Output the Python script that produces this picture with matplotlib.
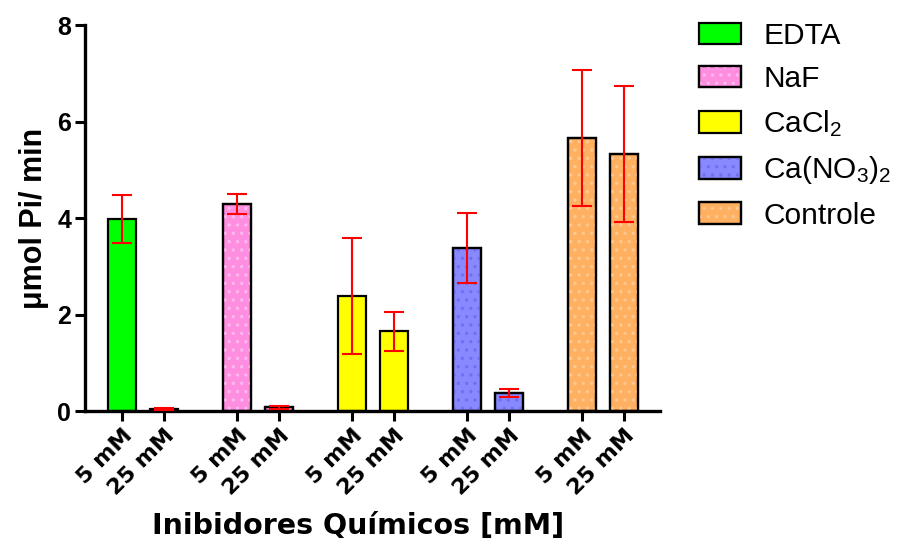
import matplotlib
matplotlib.use("Agg")
import matplotlib.pyplot as plt
from matplotlib.patches import Patch
from matplotlib.legend_handler import HandlerTuple
import matplotlib.transforms as mtransforms
import numpy as np

groups = ["EDTA", "NaF", "CaCl$_2$", "Ca(NO$_3$)$_2$", "Controle"]
conc_labels = ["5 mM", "25 mM"]
means_5 = [3.98, 4.30, 2.38, 3.38, 5.67]
means_25 = [0.05, 0.08, 1.65, 0.38, 5.33]
sem_5 = [0.50, 0.21, 1.20, 0.73, 1.41]
sem_25 = [0.02, 0.03, 0.40, 0.08, 1.41]
colors = ["#00ff00", "#ff8ee0", "#ffff00", "#8888ff", "#ffb060"]
hatch_colors = [None, "#ffb8f0", None, "#7070f0", "#ffc890"]
y_ticks = [0, 2, 4, 6, 8]

plt.rcParams['font.family'] = ['Liberation Sans', 'DejaVu Sans']
plt.rcParams['mathtext.default'] = 'regular'
plt.rcParams['hatch.linewidth'] = 1.2

fig = plt.figure(figsize=(9, 5.5), dpi=100)
ax = fig.add_axes([0.0944, 0.2527, 0.7333 - 0.0944, 0.954 - 0.2527])

step = 4.1
gap = 1.5
width = 1.0
pos5 = np.arange(len(groups)) * step
pos25 = pos5 + gap

for i in range(len(groups)):
    for p, m, s in ((pos5[i], means_5[i], sem_5[i]), (pos25[i], means_25[i], sem_25[i])):
        ax.bar(p, m, width=width, color=colors[i], edgecolor="black", linewidth=1.6, zorder=2)
        if hatch_colors[i]:
            ax.bar(p, m, width=width, color="none", edgecolor=hatch_colors[i], linewidth=0,
                   hatch="..", zorder=2.5)
            ax.bar(p, m, width=width, color="none", edgecolor="black", linewidth=1.6, zorder=2.6)
        ax.errorbar(p, m, yerr=s, fmt="none", ecolor="red", elinewidth=1.5, capsize=7,
                    capthick=1.5, zorder=3)

ticks = np.sort(np.concatenate([pos5, pos25]))
ax.set_xticks(ticks)
ax.set_xticklabels(conc_labels * len(groups), rotation=45, ha="right", va="top",
                   rotation_mode="anchor", fontsize=16, fontweight="bold",
                   family=["DejaVu Sans"])
offset = mtransforms.ScaledTranslation(-5 / 72, 0, fig.dpi_scale_trans)
for lbl in ax.get_xticklabels():
    lbl.set_transform(lbl.get_transform() + offset)
ax.set_xlim(-1.32, pos25[-1] + 1.29)
ax.set_ylim(0, 8)
ax.set_yticks(y_ticks)
ax.set_yticklabels([str(t) for t in y_ticks], fontsize=18, fontweight="bold")

for sp in ["top", "right"]:
    ax.spines[sp].set_visible(False)
for sp in ["left", "bottom"]:
    ax.spines[sp].set_linewidth(2.4)
ax.tick_params(axis="both", direction="out", length=7, width=2.2, pad=3)

ax.set_ylabel("μmol Pi/ min", fontsize=22, fontweight="bold", labelpad=6)
fig.text(0.398, 0.043, "Inibidores Químicos [mM]", fontsize=20.5, fontweight="bold",
         family=["DejaVu Sans"], ha="center", va="center")

handles = []
for i in range(len(groups)):
    base = Patch(facecolor=colors[i], edgecolor="black", linewidth=1.6)
    if hatch_colors[i]:
        hat = Patch(facecolor="none", edgecolor=hatch_colors[i], linewidth=0, hatch="..")
        edge = Patch(facecolor="none", edgecolor="black", linewidth=1.6)
        handles.append((base, hat, edge))
    else:
        handles.append((base,))
leg = fig.legend(handles, groups, loc="upper left", bbox_to_anchor=(0.7637, 0.982),
                 frameon=False, fontsize=21.5, handlelength=1.4, handleheight=0.74,
                 labelspacing=0.51, handletextpad=0.75, borderaxespad=0,
                 handler_map={tuple: HandlerTuple(ndivide=1)})

fig.savefig("out.png", dpi=100)
